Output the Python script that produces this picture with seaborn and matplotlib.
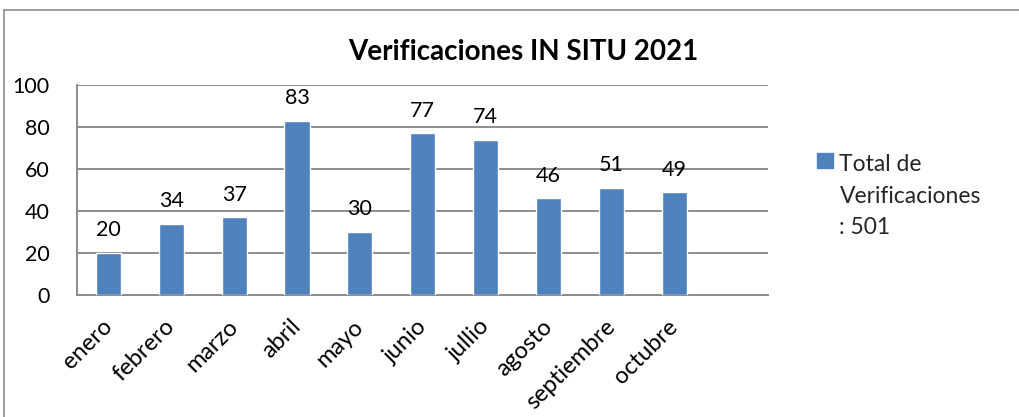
import matplotlib
matplotlib.use("Agg")
import matplotlib.pyplot as plt
import matplotlib.transforms as mtransforms
import seaborn as sns
import pandas as pd
from matplotlib.patches import Patch, Rectangle
from matplotlib.lines import Line2D
from matplotlib.legend_handler import HandlerPatch

# Monthly on-site verifications, 2021
meses = ["enero", "febrero", "marzo", "abril", "mayo", "junio",
         "jullio", "agosto", "septiembre", "octubre"]
verificaciones = [20, 34, 37, 83, 30, 77, 74, 46, 51, 49]
titulo = "Verificaciones IN SITU 2021"
serie = "Total de\nVerificaciones\n: 501"
y_ticks = [0, 20, 40, 60, 80, 100]

BAR = "#4F81BD"
GRID = "#8C8C8C"
FS = 15.5
LEG_FS = 16.5
LINESP = 1.62


class TopAlignedSquare(HandlerPatch):
    """Legend key placed beside the first line of a multi-line label."""

    def create_artists(self, legend, orig_handle, xdescent, ydescent,
                       width, height, fontsize, trans):
        shift = fontsize * LINESP * 0.97
        r = Rectangle((-xdescent, -ydescent + shift), width, height,
                      facecolor=orig_handle.get_facecolor(),
                      edgecolor=orig_handle.get_edgecolor(), transform=trans)
        return [r]


sns.set_theme(style="white")
plt.rcParams["font.family"] = ["Lato", "DejaVu Sans"]

df = pd.DataFrame({"mes": meses, "total": verificaciones})

fig = plt.figure(figsize=(10.19, 4.17), dpi=100)
ax = fig.add_axes([0.0756, 0.2926, 0.6785, 0.5036])

sns.barplot(data=df, x="mes", y="total", color=BAR, width=0.4,
            saturation=1, ax=ax, zorder=3)

ax.set_xlim(-0.5, len(meses) + 0.5)
ax.set_ylim(0, 100)
ax.set_yticks(y_ticks)
ax.yaxis.grid(True, color=GRID, linewidth=1.4, zorder=0)
ax.set_xlabel("")
ax.set_ylabel("")
for s in ["top", "right"]:
    ax.spines[s].set_visible(False)
for s in ["left", "bottom"]:
    ax.spines[s].set_color(GRID)
    ax.spines[s].set_linewidth(1.4)

ax.tick_params(axis="y", labelsize=FS, length=0, pad=20, colors="black")
ax.tick_params(axis="x", labelsize=17, length=0, pad=15, colors="black",
               labelrotation=45)
shift_left = mtransforms.ScaledTranslation(-5 / 72, 0, fig.dpi_scale_trans)
for lbl in ax.get_xticklabels():
    lbl.set_horizontalalignment("right")
    lbl.set_rotation_mode("anchor")
    lbl.set_transform(lbl.get_transform() + shift_left)

for c in ax.containers:
    ax.bar_label(c, labels=[str(v) for v in verificaciones],
                 padding=9, fontsize=FS, color="black")

fig.text(0.514, 0.875, titulo, ha="center", va="center",
         fontsize=20, fontweight="bold", color="black")

leg = fig.legend(handles=[Patch(facecolor=BAR, edgecolor=BAR)],
                 labels=[serie], loc="upper left",
                 bbox_to_anchor=(0.782, 0.68), frameon=False,
                 fontsize=LEG_FS, handlelength=0.66, handleheight=0.66,
                 handletextpad=0.3,
                 handler_map={Patch: TopAlignedSquare()})
for t in leg.get_texts():
    t.set_linespacing(LINESP)

# chart frame
fig.add_artist(Line2D([0.004, 0.004], [0.0, 0.976], color=GRID,
                      linewidth=1.2, transform=fig.transFigure))
fig.add_artist(Line2D([0.004, 1.0], [0.976, 0.976], color=GRID,
                      linewidth=1.2, transform=fig.transFigure))

fig.savefig("out.png", dpi=100, facecolor="white")
